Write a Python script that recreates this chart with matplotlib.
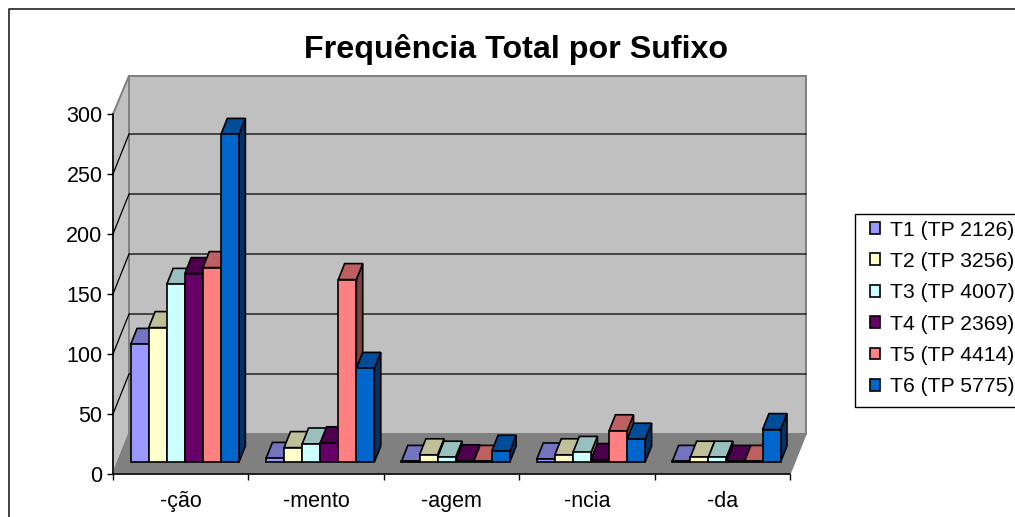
import matplotlib
matplotlib.use('Agg')
import matplotlib.pyplot as plt
from matplotlib.colors import to_rgb
from matplotlib.lines import Line2D
from matplotlib.patches import Polygon, Rectangle

plt.rcParams['font.family'] = ['Liberation Sans', 'DejaVu Sans']

categories = ['-ção', '-mento', '-agem', '-ncia', '-da']
series_names = ['T1 (TP 2126)', 'T2 (TP 3256)', 'T3 (TP 4007)',
                'T4 (TP 2369)', 'T5 (TP 4414)', 'T6 (TP 5775)']
t1 = [98, 3, 0.5, 2.5, 0.5]
t2 = [112, 12, 6, 6, 4]
t3 = [148, 15, 4, 8, 4]
t4 = [157, 16, 1, 2, 0.5]
t5 = [162, 152, 0.5, 26, 0.5]
t6 = [273, 78, 9, 19, 27]
series = [t1, t2, t3, t4, t5, t6]
colors = ['#9999FF', '#FFFFCC', '#CCFFFF', '#660066', '#FF8080', '#0066CC']
y_ticks = [0, 50, 100, 150, 200, 250, 300]

# depth of the fake 3d box, in data units
DEPTH_X = 16 / 135.4
DEPTH_Y = 40 / 1.2
BAR_W = 1 / 7.5
GAP = 0.095
NEAR = 0.3
FAR = 0.7


def shade(color, factor):
    return tuple(c * factor for c in to_rgb(color))


def add_poly(ax, points, color, edge='black', lw=1.2, zorder=1):
    ax.add_patch(Polygon(points, closed=True, facecolor=color, edgecolor=edge,
                         linewidth=lw, zorder=zorder, clip_on=False,
                         joinstyle='miter'))


fig = plt.figure(figsize=(10.15, 5.17), dpi=100)
ax = fig.add_axes([113 / 1015, (517 - 474) / 517, 677 / 1015, 360 / 517])
ax.set_xlim(0, len(categories))
ax.set_ylim(0, 300)
ax.patch.set_visible(False)

# chart border, the picture is cropped on the right and at the bottom
fig.add_artist(Line2D([8.5 / 1015, 8.5 / 1015, 1], [0, 1 - 8.5 / 517, 1 - 8.5 / 517],
                      color='#222222', lw=1.2))

# walls and floor
n = len(categories)
wall = '#C0C0C0'
grey = '#808080'
top_wall = 300 + DEPTH_Y - 1.5
add_poly(ax, [(0, 0), (DEPTH_X, DEPTH_Y), (DEPTH_X, top_wall), (0, 300)], wall, grey, 1.4, 1)
add_poly(ax, [(DEPTH_X, DEPTH_Y), (n + DEPTH_X, DEPTH_Y), (n + DEPTH_X, top_wall),
              (DEPTH_X, top_wall)], wall, grey, 1.4, 1)
add_poly(ax, [(0, 0), (n, 0), (n + DEPTH_X, DEPTH_Y), (DEPTH_X, DEPTH_Y)], grey, grey, 1.0, 2)

for v in y_ticks[1:-1]:
    ax.plot([0, DEPTH_X, n + DEPTH_X], [v, v + DEPTH_Y, v + DEPTH_Y], color='black',
            lw=0.9, zorder=3, clip_on=False, solid_joinstyle='miter')

# bars, left to right so that each one hides the side of the previous one
z = 5
handles = []
for c in range(n):
    for s, values in enumerate(series):
        h = values[c]
        left = c + GAP + s * BAR_W + NEAR * DEPTH_X
        right = left + BAR_W
        base = NEAR * DEPTH_Y
        top = base + h
        off_x = (FAR - NEAR) * DEPTH_X
        off_y = (FAR - NEAR) * DEPTH_Y
        add_poly(ax, [(right, base), (right + off_x, base + off_y),
                      (right + off_x, top + off_y), (right, top)],
                 shade(colors[s], 0.5), zorder=z)
        add_poly(ax, [(left, top), (right, top), (right + off_x, top + off_y),
                      (left + off_x, top + off_y)], shade(colors[s], 0.75), zorder=z)
        bar = ax.bar(left, h, width=BAR_W, bottom=base, align='edge', color=colors[s],
                     edgecolor='black', linewidth=1.2, zorder=z + 0.5, clip_on=False)
        if c == 0:
            handles.append(bar[0])
        z += 1

# axes
for side in ['top', 'right']:
    ax.spines[side].set_visible(False)
for side in ['left', 'bottom']:
    ax.spines[side].set_linewidth(1.1)
    ax.spines[side].set_zorder(4)
ax.set_yticks(y_ticks)
ax.set_xticks(range(n + 1))
ax.set_xticklabels([])
ax.set_xticks([i + 0.5 for i in range(n)], minor=True)
ax.set_xticklabels(categories, minor=True)
ax.tick_params(axis='x', which='major', length=4, width=1.0, direction='out')
ax.tick_params(axis='x', which='minor', length=0, pad=12.5, labelsize=15.5)
ax.tick_params(axis='y', length=4, width=1.0, pad=3.5, labelsize=15.5)

fig.suptitle('Frequência Total por Sufixo', x=516 / 1015, y=1 - 49.5 / 517, va='center',
             fontsize=23.2, fontweight='bold')

# legend box runs past the right edge of the picture
fig.add_artist(Rectangle((855 / 1015, 1 - 407 / 517), 170 / 1015, 193 / 517, facecolor='white',
                         edgecolor='black', linewidth=1.0, zorder=1,
                         transform=fig.transFigure))
leg = fig.legend(handles, series_names, loc='upper left',
                 bbox_to_anchor=(870 / 1015, 1 - 220.5 / 517), borderaxespad=0,
                 fontsize=15.2, frameon=False, handlelength=0.48, handleheight=0.48,
                 handletextpad=0.48, labelspacing=0.585, borderpad=0)
leg.set_zorder(6)

fig.savefig('out.png', dpi=100)
